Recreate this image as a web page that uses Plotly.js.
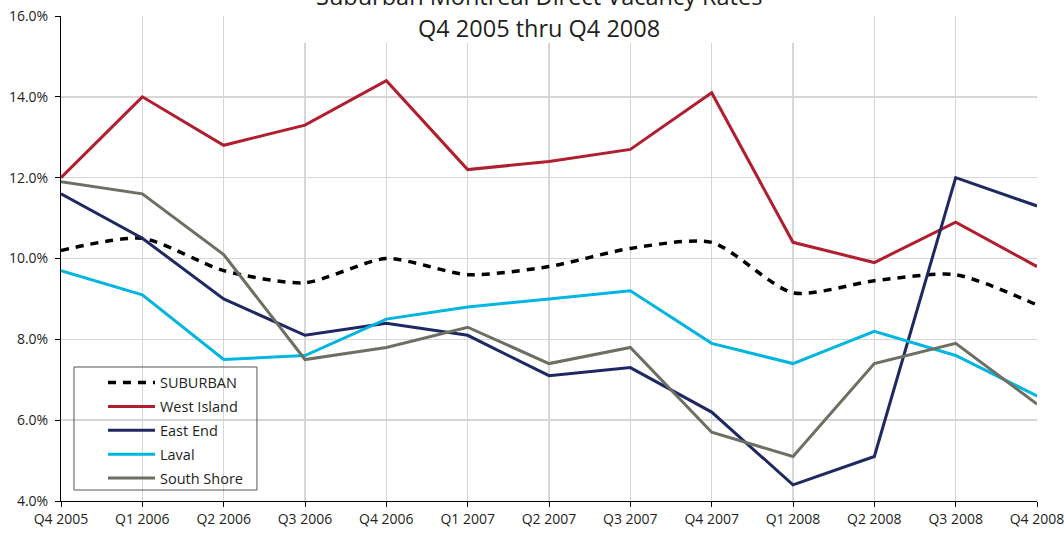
<!DOCTYPE html>
<html>
<head>
<meta charset="utf-8">
<script src="https://cdn.plot.ly/plotly-3.0.1.min.js"></script>
<style>html,body{margin:0;padding:0;background:#fff;}#chart{width:1064px;height:533px;}</style>
</head>
<body>
<div id="chart"></div>
<script>
const quarters = ["Q4 2005","Q1 2006","Q2 2006","Q3 2006","Q4 2006","Q1 2007","Q2 2007","Q3 2007","Q4 2007","Q1 2008","Q2 2008","Q3 2008","Q4 2008"];
const suburban   = [10.2, 10.5, 9.7, 9.4, 10.0, 9.6, 9.8, 10.25, 10.4, 9.15, 9.45, 9.6, 8.85];
const westIsland = [12.0, 14.0, 12.8, 13.3, 14.4, 12.2, 12.4, 12.7, 14.1, 10.4, 9.9, 10.9, 9.8];
const eastEnd    = [11.6, 10.5, 9.0, 8.1, 8.4, 8.1, 7.1, 7.3, 6.2, 4.4, 5.1, 12.0, 11.3];
const laval      = [9.7, 9.1, 7.5, 7.6, 8.5, 8.8, 9.0, 9.2, 7.9, 7.4, 8.2, 7.6, 6.6];
const southShore = [11.9, 11.6, 10.1, 7.5, 7.8, 8.3, 7.4, 7.8, 5.7, 5.1, 7.4, 7.9, 6.4];
const yTicks = [4, 6, 8, 10, 12, 14, 16];
const yTickText = yTicks.map(v => v.toFixed(1) + "%");

const FONT = "Open Sans, Noto Sans, sans-serif";
const TXT = "#231f20";

function tr(name, y, color, extra) {
  return Object.assign({
    x: quarters, y: y, name: name, type: "scatter", mode: "lines",
    legendgroup: name,
    line: {color: color, width: 3},
    hoverinfo: "skip"
  }, extra || {});
}

const data = [
  tr("SUBURBAN", suburban, "#000000", {line: {color: "#000000", width: 3.5, dash: "8px,7px", shape: "spline", smoothing: 0.7}}),
  tr("West Island", westIsland, "#b01f2f"),
  tr("East End", eastEnd, "#1f2862"),
  tr("Laval", laval, "#00b5df"),
  tr("South Shore", southShore, "#6d6f62")
];

const layout = {
  width: 1064, height: 533,
  margin: {l: 61, r: 27, t: 16, b: 32},
  paper_bgcolor: "#ffffff", plot_bgcolor: "#ffffff",
  font: {family: FONT, color: TXT, size: 14},
  showlegend: true,
  legend: {
    x: 0.043, y: 0.277, xanchor: "left", yanchor: "top",
    bgcolor: "rgba(0,0,0,0)", borderwidth: 0,
    font: {family: FONT, size: 14.5, color: TXT},
    traceorder: "grouped", tracegroupgap: 2,
    itemwidth: 47
  },
  xaxis: {
    type: "category", range: [0, 12],
    showgrid: true, gridcolor: "#d6d6d6", gridwidth: 1.5,
    showline: true, linecolor: "#000000", linewidth: 1,
    ticks: "outside", ticklen: 5, tickcolor: "#000000",
    tickfont: {family: FONT, size: 14, color: TXT},
    zeroline: false, fixedrange: true
  },
  yaxis: {
    range: [4, 16], tickvals: yTicks, ticktext: yTickText,
    showgrid: true, gridcolor: "#d6d6d6", gridwidth: 1.5,
    showline: true, linecolor: "#000000", linewidth: 1,
    ticks: "outside", ticklen: 5, tickcolor: "#000000",
    ticklabelstandoff: 4,
    tickfont: {family: FONT, size: 14, color: TXT},
    zeroline: false, fixedrange: true
  },
  shapes: [
    {type: "rect", xref: "paper", yref: "paper", x0: 0.207, x1: 0.7725, y0: 0.9443, y1: 1.06,
     fillcolor: "#ffffff", line: {width: 0}, layer: "above"},
    {type: "rect", xref: "paper", yref: "paper", x0: 0.0133, x1: 0.2008, y0: 0.0226, y1: 0.2763,
     fillcolor: "rgba(255,255,255,0)", line: {color: "#555555", width: 1}, layer: "above"}
  ],
  annotations: [
    {xref: "paper", yref: "paper", x: 0.49, y: 1.041, xanchor: "center", yanchor: "middle",
     text: "Suburban Montreal Direct Vacancy Rates", showarrow: false,
     font: {family: FONT, size: 23.5, color: TXT}},
    {xref: "paper", yref: "paper", x: 0.49, y: 0.975, xanchor: "center", yanchor: "middle",
     text: "Q4 2005 thru Q4 2008", showarrow: false,
     font: {family: FONT, size: 23.5, color: TXT}}
  ]
};

Plotly.newPlot("chart", data, layout, {displayModeBar: false, staticPlot: true});
</script>
</body>
</html>
